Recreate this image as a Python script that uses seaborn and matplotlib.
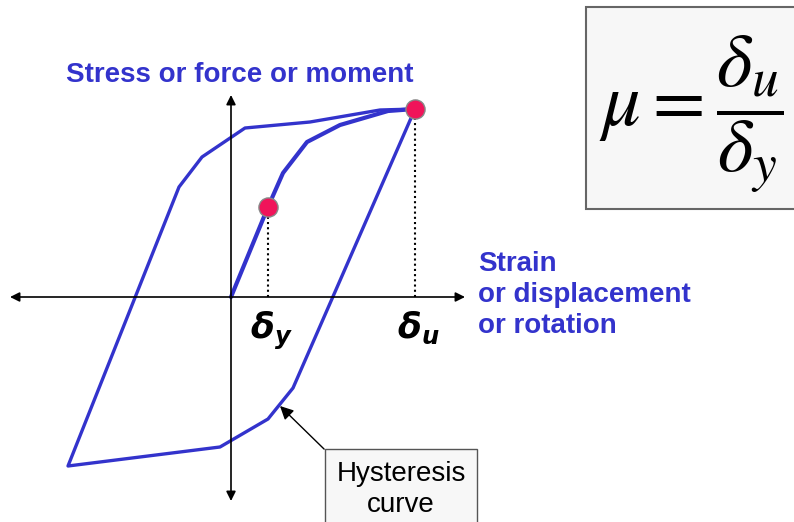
import matplotlib
matplotlib.use("Agg")
import matplotlib.pyplot as plt
from matplotlib.patches import Rectangle
import seaborn as sns

# hysteresis loop (strain, stress), starting at the ultimate point
loop_strain = [184, 62, 37, -11, -163, -52, -29, 14, 79, 149, 184]
loop_stress = [188, -91, -122, -150, -169, 110, 140, 169, 175, 187, 188]

# initial loading curve
load_strain = [0, 37, 52, 76, 109, 157, 184]
load_stress = [0, 90, 124, 155, 172, 186, 188]

# yield and ultimate points
pt_strain = [37, 184]
pt_stress = [90, 188]
pt_labels = [r"$\mathbfit{\delta_y}$", r"$\mathbfit{\delta_u}$"]

blue = "#3333CC"

sns.set_style("white")
plt.rcParams["font.family"] = ["Liberation Sans", "DejaVu Sans"]
plt.rcParams["text.color"] = "black"

fig = plt.figure(figsize=(7.94, 5.22), dpi=100)
ax = fig.add_axes([0, 0, 1, 1])
ax.set_xlim(-231, 563)
ax.set_ylim(-225, 297)
ax.axis("off")

# axes arrows
ax.annotate("", xy=(234, 0), xytext=(-221, 0),
            arrowprops=dict(arrowstyle="<|-|>", color="black", lw=1.2,
                            mutation_scale=14, shrinkA=0, shrinkB=0))
ax.annotate("", xy=(0, 202), xytext=(0, -204),
            arrowprops=dict(arrowstyle="<|-|>", color="black", lw=1.2,
                            mutation_scale=14, shrinkA=0, shrinkB=0))

# curves
sns.lineplot(x=loop_strain, y=loop_stress, sort=False, estimator=None,
             color=blue, lw=2.4, ax=ax)
sns.lineplot(x=load_strain, y=load_stress, sort=False, estimator=None,
             color=blue, lw=3.0, ax=ax)

# dotted drops to the strain axis
for sx, sy, lab in zip(pt_strain, pt_stress, pt_labels):
    ax.plot([sx, sx], [0, sy], ls=(0, (1, 1.5)), color="black", lw=1.5, zorder=2)
    ax.text(sx + 3, -13, lab, fontsize=25, ha="center", va="top",
            math_fontfamily="dejavusans")

sns.scatterplot(x=pt_strain, y=pt_stress, s=190, color="#F0145A",
                edgecolor="#888888", linewidth=1, zorder=5, ax=ax)

# axis labels
ax.text(-165, 215, "Stress or force or moment", color=blue, fontsize=20,
        fontweight="bold", va="baseline")
ax.text(247, -36, "Strain\nor displacement\nor rotation", color=blue,
        fontsize=20, fontweight="bold", va="baseline", linespacing=1.26)

# ductility formula box
ax.add_patch(Rectangle((355, 88), 230, 202, facecolor="#F7F7F7",
                       edgecolor="#666666", lw=1.5, zorder=1))
ax.text(460, 183, r"$\mu = \dfrac{\delta_u}{\delta_y}$", fontsize=55,
        ha="center", va="center", math_fontfamily="stix", zorder=3)

# hysteresis callout
ax.annotate("Hysteresis\ncurve", xy=(49, -109), xytext=(170, -164),
            fontsize=20, ha="center", va="top", linespacing=1.26,
            bbox=dict(boxstyle="square,pad=0.42", fc="#F7F7F7", ec="#555555"),
            arrowprops=dict(arrowstyle="-|>", color="black", lw=1,
                            relpos=(0, 1), shrinkA=0, shrinkB=0))

fig.savefig("out.png", dpi=100)
